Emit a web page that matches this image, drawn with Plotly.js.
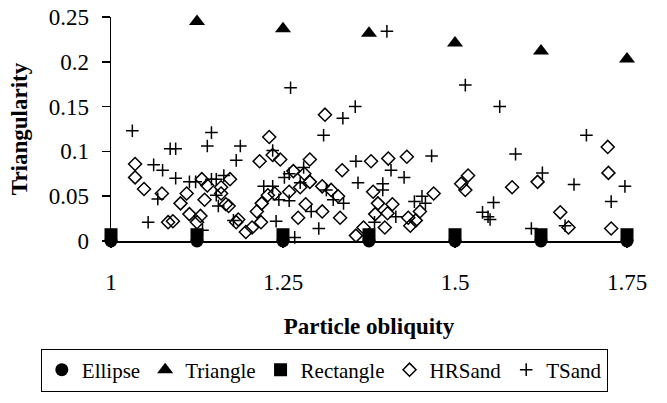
<!DOCTYPE html>
<html>
<head>
<meta charset="utf-8">
<script src="https://cdn.plot.ly/plotly-3.0.1.min.js"></script>
<style>html,body{margin:0;padding:0;background:#fff;}#chart{width:667px;height:403px;}</style>
</head>
<body>
<div id="chart"></div>
<script>
// Model shapes
const shapeX = [1, 1.125, 1.25, 1.375, 1.5, 1.625, 1.75];
const ellipseY = [0, 0, 0, 0, 0, 0, 0];
const triangleX = [1.125, 1.25, 1.375, 1.5, 1.625, 1.75];
const triangleY = [0.245, 0.237, 0.232, 0.221, 0.212, 0.203];
const rectangleY = [0.007, 0.007, 0.007, 0.007, 0.007, 0.007, 0.007];

// HRSand
const hrX = [1.035,1.035,1.048,1.074,1.083,1.090,1.101,1.110,1.114,1.125,1.130,1.132,1.136,1.140,1.160,1.160,1.167,1.171,1.173,1.182,1.185,1.196,1.205,1.212,1.218,1.216,1.219,1.228,1.230,1.235,1.238,1.246,1.259,1.265,1.272,1.275,1.281,1.283,1.289,1.289,1.307,1.307,1.311,1.320,1.330,1.333,1.336,1.356,1.367,1.378,1.381,1.384,1.388,1.398,1.402,1.403,1.409,1.430,1.432,1.435,1.443,1.449,1.469,1.509,1.515,1.519,1.583,1.620,1.653,1.665,1.722,1.723,1.727];
const hrY = [0.086,0.071,0.058,0.053,0.021,0.022,0.042,0.053,0.030,0.021,0.028,0.069,0.046,0.062,0.060,0.053,0.041,0.039,0.069,0.021,0.024,0.010,0.015,0.033,0.021,0.089,0.042,0.051,0.116,0.096,0.053,0.091,0.055,0.078,0.026,0.060,0.075,0.041,0.091,0.066,0.033,0.061,0.141,0.057,0.050,0.026,0.079,0.006,0.015,0.089,0.055,0.030,0.042,0.015,0.031,0.092,0.041,0.094,0.026,0.017,0.023,0.033,0.053,0.064,0.057,0.073,0.060,0.066,0.032,0.015,0.105,0.076,0.014];

// TSand
const tsX = [1.031,1.054,1.062,1.075,1.068,1.086,1.094,1.094,1.114,1.123,1.133,1.140,1.146,1.146,1.153,1.153,1.156,1.164,1.182,1.188,1.178,1.222,1.235,1.235,1.240,1.244,1.261,1.252,1.259,1.259,1.267,1.280,1.275,1.291,1.302,1.309,1.313,1.323,1.337,1.338,1.355,1.356,1.359,1.383,1.395,1.395,1.401,1.407,1.414,1.426,1.441,1.452,1.457,1.466,1.515,1.540,1.548,1.556,1.551,1.565,1.588,1.627,1.611,1.660,1.673,1.691,1.727,1.747];
const tsY = [0.123,0.021,0.085,0.079,0.047,0.103,0.103,0.070,0.066,0.066,0.012,0.106,0.121,0.069,0.069,0.051,0.039,0.073,0.090,0.106,0.023,0.061,0.101,0.061,0.022,0.046,0.171,0.071,0.075,0.045,0.004,0.082,0.065,0.033,0.014,0.118,0.057,0.046,0.137,0.042,0.150,0.089,0.065,0.021,0.064,0.057,0.234,0.079,0.027,0.071,0.044,0.050,0.042,0.095,0.174,0.032,0.027,0.043,0.024,0.150,0.097,0.076,0.014,0.017,0.063,0.118,0.044,0.061];

const FONT = 'Liberation Serif';

const traces = [
  {name: 'Ellipse', x: shapeX, y: ellipseY, type: 'scatter', mode: 'markers',
   marker: {symbol: 'circle', size: 13, color: '#000'}, cliponaxis: false},
  {name: 'Triangle', x: triangleX, y: triangleY, type: 'scatter', mode: 'markers',
   marker: {symbol: 'triangle-up', size: 14, color: '#000'}, cliponaxis: false},
  {name: 'Rectangle', x: shapeX, y: rectangleY, type: 'scatter', mode: 'markers',
   marker: {symbol: 'square', size: 13, color: '#000'}, cliponaxis: false},
  {name: 'HRSand', x: hrX, y: hrY, type: 'scatter', mode: 'markers',
   marker: {symbol: 'diamond-open', size: 10, color: '#000', line: {width: 1.5, color: '#000'}}, cliponaxis: false},
  {name: 'TSand', x: tsX, y: tsY, type: 'scatter', mode: 'markers',
   marker: {symbol: 'cross-thin-open', size: 9, color: '#000', line: {width: 1.5, color: '#000'}}, cliponaxis: false}
];

const layout = {
  width: 667, height: 403,
  margin: {l: 111, r: 40, t: 17, b: 154},
  paper_bgcolor: '#fff', plot_bgcolor: '#fff',
  font: {family: FONT, size: 23, color: '#000'},
  showlegend: true,
  xaxis: {
    range: [1, 1.75], tickvals: [1, 1.25, 1.5, 1.75],
    showline: true, linecolor: '#000', linewidth: 1.5,
    ticks: 'outside', ticklen: 5, tickcolor: '#000', tickwidth: 1.5,
    showgrid: false, zeroline: false,
    tickfont: {family: FONT, size: 23},
    ticklabelstandoff: 15,
    title: {text: '<b>Particle obliquity</b>', font: {family: FONT, size: 23}, standoff: 24}
  },
  yaxis: {
    range: [0, 0.25], dtick: 0.05,
    showline: true, linecolor: '#000', linewidth: 1.5,
    ticks: 'outside', ticklen: 8, tickcolor: '#000', tickwidth: 1.5,
    showgrid: false, zeroline: false,
    tickfont: {family: FONT, size: 23},
    ticklabelstandoff: 8,
    title: {text: '<b>Triangularity</b>', font: {family: FONT, size: 23}, standoff: 14}
  },
  legend: {
    orientation: 'h', x: -0.136, xanchor: 'left', y: -0.48, yanchor: 'top',
    bordercolor: '#000', borderwidth: 1, bgcolor: '#fff',
    font: {family: FONT, size: 21}, itemwidth: 30, tracegroupgap: 0
  }
};

Plotly.newPlot('chart', traces, layout, {displayModeBar: false, staticPlot: true});
</script>
</body>
</html>
